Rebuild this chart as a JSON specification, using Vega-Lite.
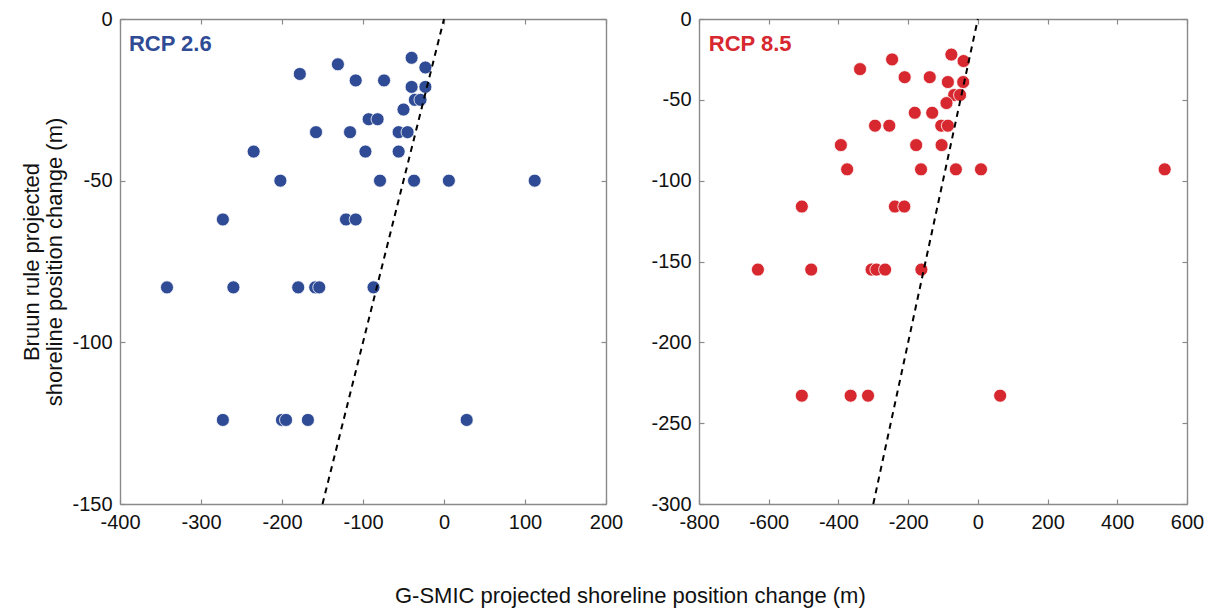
{
  "$schema": "https://vega.github.io/schema/vega-lite/v6.json",
  "background": "white",
  "padding": {"left": 20, "top": 9, "right": 10, "bottom": 5},
  "config": {
    "font": "Liberation Sans",
    "view": {"stroke": null},
    "axis": {
      "grid": false,
      "domainColor": "#8a8a8a",
      "domainWidth": 1.4,
      "tickColor": "#8a8a8a",
      "tickWidth": 1.2,
      "tickSize": -5,
      "labelFontSize": 20,
      "labelColor": "#111",
      "labelFont": "Liberation Sans",
      "labelPadding": 13,
      "labelFlush": false,
      "labelExpr": "datum.value < 0 ? '-' + abs(datum.value) : '' + datum.value",
      "titleFontSize": 22,
      "titleFontWeight": "normal",
      "titleColor": "#111",
      "titleFont": "Liberation Sans"
    }
  },
  "title": {
    "text": "G-SMIC projected shoreline position change (m)",
    "orient": "bottom",
    "anchor": "middle",
    "fontSize": 22,
    "fontWeight": "normal",
    "color": "#111",
    "font": "Liberation Sans",
    "offset": 54,
    "dx": 18
  },
  "datasets": {
    "rcp26": [
      {"x": -40, "y": -12}, {"x": -131, "y": -14}, {"x": -178, "y": -17}, {"x": -23, "y": -15},
      {"x": -109, "y": -19}, {"x": -74, "y": -19}, {"x": -40, "y": -21}, {"x": -23, "y": -21},
      {"x": -36, "y": -25}, {"x": -29, "y": -25}, {"x": -50, "y": -28}, {"x": -93, "y": -31},
      {"x": -82, "y": -31}, {"x": -158, "y": -35}, {"x": -116, "y": -35}, {"x": -56, "y": -35},
      {"x": -45, "y": -35}, {"x": -235, "y": -41}, {"x": -97, "y": -41}, {"x": -56, "y": -41},
      {"x": -202, "y": -50}, {"x": -79, "y": -50}, {"x": -37, "y": -50}, {"x": 6, "y": -50},
      {"x": 112, "y": -50}, {"x": -273, "y": -62}, {"x": -121, "y": -62}, {"x": -109, "y": -62},
      {"x": -342, "y": -83}, {"x": -260, "y": -83}, {"x": -180, "y": -83}, {"x": -159, "y": -83},
      {"x": -154, "y": -83}, {"x": -87, "y": -83}, {"x": -273, "y": -124}, {"x": -200, "y": -124},
      {"x": -195, "y": -124}, {"x": -168, "y": -124}, {"x": 28, "y": -124}
    ],
    "rcp85": [
      {"x": -76, "y": -22}, {"x": -41, "y": -26}, {"x": -246, "y": -25}, {"x": -338, "y": -31},
      {"x": -210, "y": -36}, {"x": -138, "y": -36}, {"x": -86, "y": -39}, {"x": -42, "y": -39},
      {"x": -68, "y": -47}, {"x": -51, "y": -47}, {"x": -90, "y": -52}, {"x": -181, "y": -58},
      {"x": -131, "y": -58}, {"x": -295, "y": -66}, {"x": -254, "y": -66}, {"x": -105, "y": -66},
      {"x": -86, "y": -66}, {"x": -393, "y": -78}, {"x": -177, "y": -78}, {"x": -104, "y": -78},
      {"x": -375, "y": -93}, {"x": -163, "y": -93}, {"x": -63, "y": -93}, {"x": 9, "y": -93},
      {"x": 536, "y": -93}, {"x": -505, "y": -116}, {"x": -238, "y": -116}, {"x": -211, "y": -116},
      {"x": -631, "y": -155}, {"x": -478, "y": -155}, {"x": -305, "y": -155}, {"x": -291, "y": -155},
      {"x": -266, "y": -155}, {"x": -162, "y": -155}, {"x": -505, "y": -233}, {"x": -365, "y": -233},
      {"x": -315, "y": -233}, {"x": 64, "y": -233}
    ],
    "line26": [{"x": 0, "y": 0}, {"x": -150, "y": -150}],
    "line85": [{"x": 0, "y": 0}, {"x": -300, "y": -300}]
  },
  "spacing": 27,
  "hconcat": [
    {
      "width": 486,
      "height": 485,
      "resolve": {"axis": {"x": "independent", "y": "independent"}},
      "layer": [
        {
          "data": {"name": "rcp26"},
          "mark": {"type": "point", "filled": true, "size": 170, "color": "#2f4b95", "opacity": 1, "stroke": "white", "strokeWidth": 0.8},
          "encoding": {
            "x": {"field": "x", "type": "quantitative", "scale": {"domain": [-400, 200], "nice": false, "zero": false},
                  "axis": {"orient": "bottom", "values": [-400, -300, -200, -100, 0, 100, 200], "title": null}},
            "y": {"field": "y", "type": "quantitative", "scale": {"domain": [-150, 0], "nice": false, "zero": false},
                  "axis": {"orient": "left", "values": [-150, -100, -50, 0], "title": ["Bruun rule projected", "shoreline position change (m)"], "titlePadding": 5, "titleLineHeight": 23}}
          }
        },
        {
          "data": {"name": "line26"},
          "mark": {"type": "line", "color": "black", "strokeWidth": 2, "strokeDash": [6, 5]},
          "encoding": {
            "x": {"field": "x", "type": "quantitative",
                  "axis": {"orient": "top", "values": [-400, -300, -200, -100, 0, 100, 200], "labels": false, "title": null}},
            "y": {"field": "y", "type": "quantitative",
                  "axis": {"orient": "right", "values": [-150, -100, -50, 0], "labels": false, "title": null}}
          }
        },
        {
          "data": {"values": [{"label": "RCP 2.6"}]},
          "mark": {"type": "text", "align": "left", "baseline": "alphabetic", "fontSize": 22, "fontWeight": "bold", "color": "#2f4b95", "font": "Liberation Sans"},
          "encoding": {
            "x": {"datum": -389, "type": "quantitative", "axis": null},
            "y": {"datum": -10, "type": "quantitative", "axis": null},
            "text": {"field": "label"}
          }
        }
      ]
    },
    {
      "width": 488,
      "height": 485,
      "resolve": {"axis": {"x": "independent", "y": "independent"}},
      "layer": [
        {
          "data": {"name": "rcp85"},
          "mark": {"type": "point", "filled": true, "size": 170, "color": "#d7272f", "opacity": 1, "stroke": "white", "strokeWidth": 0.8},
          "encoding": {
            "x": {"field": "x", "type": "quantitative", "scale": {"domain": [-800, 600], "nice": false, "zero": false},
                  "axis": {"orient": "bottom", "values": [-800, -600, -400, -200, 0, 200, 400, 600], "title": null}},
            "y": {"field": "y", "type": "quantitative", "scale": {"domain": [-300, 0], "nice": false, "zero": false},
                  "axis": {"orient": "left", "values": [-300, -250, -200, -150, -100, -50, 0], "title": null}}
          }
        },
        {
          "data": {"name": "line85"},
          "mark": {"type": "line", "color": "black", "strokeWidth": 2, "strokeDash": [6, 5]},
          "encoding": {
            "x": {"field": "x", "type": "quantitative",
                  "axis": {"orient": "top", "values": [-800, -600, -400, -200, 0, 200, 400, 600], "labels": false, "title": null}},
            "y": {"field": "y", "type": "quantitative",
                  "axis": {"orient": "right", "values": [-300, -250, -200, -150, -100, -50, 0], "labels": false, "title": null}}
          }
        },
        {
          "data": {"values": [{"label": "RCP 8.5"}]},
          "mark": {"type": "text", "align": "left", "baseline": "alphabetic", "fontSize": 22, "fontWeight": "bold", "color": "#d7272f", "font": "Liberation Sans"},
          "encoding": {
            "x": {"datum": -772, "type": "quantitative", "axis": null},
            "y": {"datum": -20, "type": "quantitative", "axis": null},
            "text": {"field": "label"}
          }
        }
      ]
    }
  ]
}
